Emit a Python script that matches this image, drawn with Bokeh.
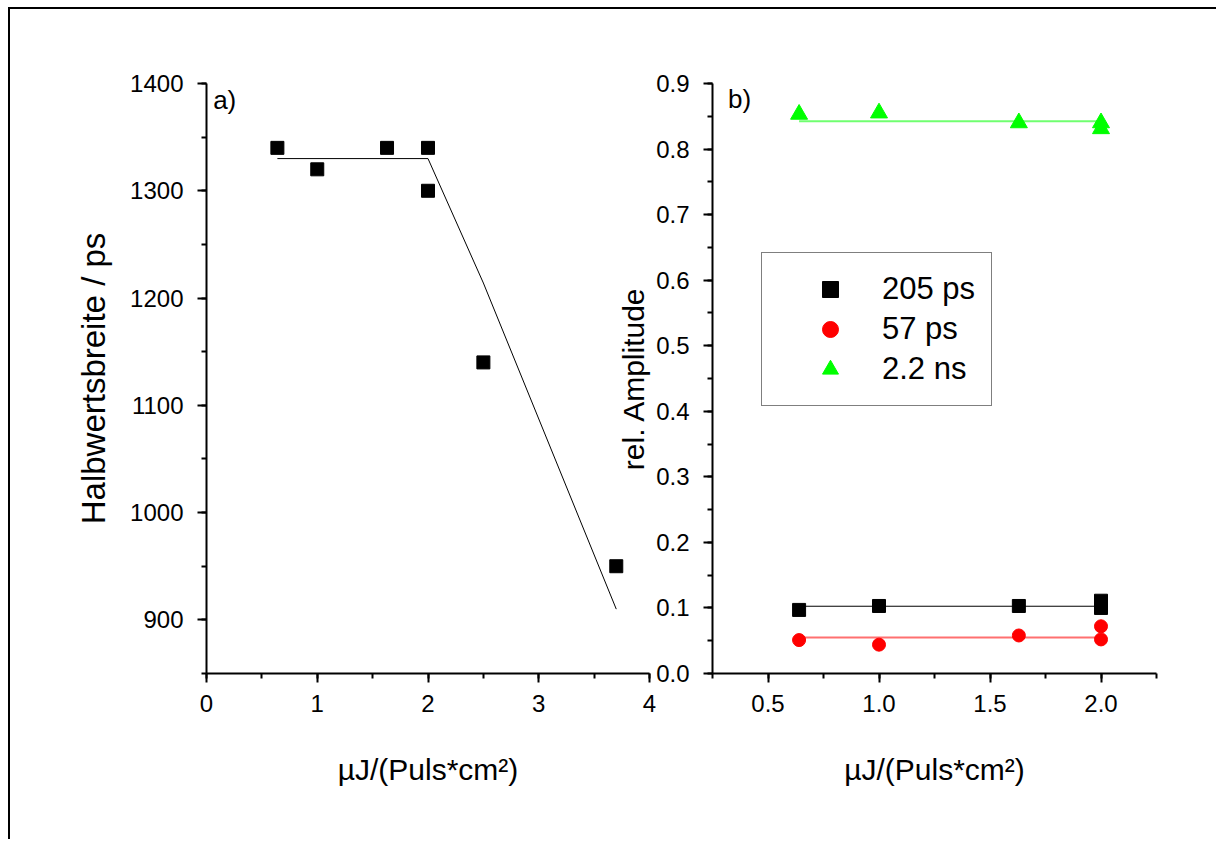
from bokeh.plotting import figure
from bokeh.models import (SingleIntervalTicker, Range1d, Legend, LegendItem, Label,
                          PrintfTickFormatter)
from bokeh.layouts import row
from bokeh.embed import file_html
from bokeh.resources import INLINE

# ---------------- data ----------------
# panel a) Halbwertsbreite vs fluence
fwhm_x = [0.64, 1.0, 1.63, 2.0, 2.0, 2.5, 3.7]
fwhm_y = [1340, 1320, 1340, 1340, 1300, 1140, 950]
fwhm_fit_x = [0.64, 2.0, 2.5, 3.7]
fwhm_fit_y = [1330, 1330, 1214, 910]

# panel b) relative amplitudes
amp_x = [0.64, 1.0, 1.63, 2.0, 2.0]
amp_205ps = [0.097, 0.103, 0.103, 0.111, 0.100]
amp_57ps = [0.051, 0.044, 0.058, 0.072, 0.052]
amp_2_2ns = [0.853, 0.855, 0.840, 0.840, 0.831]
fit_x = [0.64, 2.0]
fit_205ps = [0.1026, 0.1026]
fit_57ps = [0.055, 0.055]
fit_2_2ns = [0.8425, 0.8425]

series_labels = ["205 ps", "57 ps", "2.2 ns"]
x_label = "µJ/(Puls*cm²)"
y_label_a = "Halbwertsbreite / ps"
y_label_b = "rel. Amplitude"

FONT = "Liberation Sans"
TICK_FS = "24px"
LABEL_FS = "30px"


def style_axes(p):
    for ax in (p.xaxis[0], p.yaxis[0]):
        ax.axis_line_width = 2
        ax.major_tick_line_width = 2
        ax.minor_tick_line_width = 2
        ax.major_tick_in = 0
        ax.minor_tick_in = 0
        ax.major_tick_out = 9
        ax.minor_tick_out = 5
        ax.major_label_text_font = FONT
        ax.major_label_text_font_size = TICK_FS
        ax.major_label_text_color = "black"
        ax.axis_label_text_font = FONT
        ax.axis_label_text_font_size = LABEL_FS
        ax.axis_label_text_font_style = "normal"
        ax.axis_label_text_color = "black"
    p.xaxis[0].major_label_standoff = 12
    p.yaxis[0].major_label_standoff = 14
    p.xaxis[0].axis_label_standoff = 38
    p.xgrid.visible = False
    p.ygrid.visible = False
    p.outline_line_color = None


# ---------------- panel a ----------------
p1 = figure(width=650, height=830, output_backend="svg", toolbar_location=None,
            x_range=Range1d(0, 4), y_range=Range1d(850, 1400),
            min_border_left=196, min_border_right=11, min_border_top=74, min_border_bottom=166)
p1.xaxis.ticker = SingleIntervalTicker(interval=1, num_minor_ticks=2)
p1.yaxis.ticker = SingleIntervalTicker(interval=100, num_minor_ticks=2)
p1.xaxis.axis_label = x_label
p1.yaxis.axis_label = y_label_a
style_axes(p1)
p1.yaxis.axis_label_text_font_size = "33px"
p1.yaxis.axis_label_standoff = 15

p1.line(fwhm_fit_x, fwhm_fit_y, line_color="black", line_width=1)
p1.scatter(fwhm_x, fwhm_y, marker="square", size=13, fill_color="black", line_color="black")
p1.add_layout(Label(x=0.06, y=1399, text="a)", text_font=FONT, text_font_size="26px",
                    text_color="black", text_baseline="top", text_align="left"))

# ---------------- panel b ----------------
p2 = figure(width=616, height=830, output_backend="svg", toolbar_location=None,
            x_range=Range1d(0.25, 2.25), y_range=Range1d(0, 0.9),
            min_border_left=112, min_border_right=60, min_border_top=74, min_border_bottom=166)
p2.xaxis.ticker = SingleIntervalTicker(interval=0.5, num_minor_ticks=2)
p2.yaxis.ticker = SingleIntervalTicker(interval=0.1, num_minor_ticks=2)
p2.xaxis.formatter = PrintfTickFormatter(format="%.1f")
p2.yaxis.formatter = PrintfTickFormatter(format="%.1f")
p2.xaxis.axis_label = x_label
p2.yaxis.axis_label = y_label_b
style_axes(p2)
p2.yaxis.axis_label_standoff = 3
p2.background_fill_color = None
p2.border_fill_color = None
p2.margin = (0, 0, 0, -60)

p2.line(fit_x, fit_205ps, line_color="black", line_width=1)
p2.line(fit_x, fit_57ps, line_color="#FF7070", line_width=2)
p2.line(fit_x, fit_2_2ns, line_color="#70FF70", line_width=2)
r205 = p2.scatter(amp_x, amp_205ps, marker="square", size=13, fill_color="black", line_color="black")
r57 = p2.scatter(amp_x, amp_57ps, marker="circle", size=13, fill_color="#FF0000", line_color="#FF0000")
r22 = p2.scatter(amp_x, amp_2_2ns, marker="triangle", size=17, fill_color="#00FF00", line_color="#00FF00")
p2.add_layout(Label(x=0.32, y=0.899, text="b)", text_font=FONT, text_font_size="26px",
                    text_color="black", text_baseline="top", text_align="left"))

legend = Legend(items=[LegendItem(label=series_labels[0], renderers=[r205]),
                       LegendItem(label=series_labels[1], renderers=[r57]),
                       LegendItem(label=series_labels[2], renderers=[r22])],
                location=(49, 267), padding=16, spacing=0,
                glyph_width=104, glyph_height=40, label_height=40, label_standoff=0,
                label_text_font=FONT, label_text_font_size="31px", label_text_color="black",
                border_line_color="black", border_line_width=1,
                background_fill_color="white", background_fill_alpha=1, margin=0)
p2.add_layout(legend, "center")

layout = row(p1, p2, margin=(7, 0, 0, 8),
             styles={"border-top": "2px solid black", "border-left": "2px solid black"})

open("out.html", "w").write(file_html(layout, INLINE))
